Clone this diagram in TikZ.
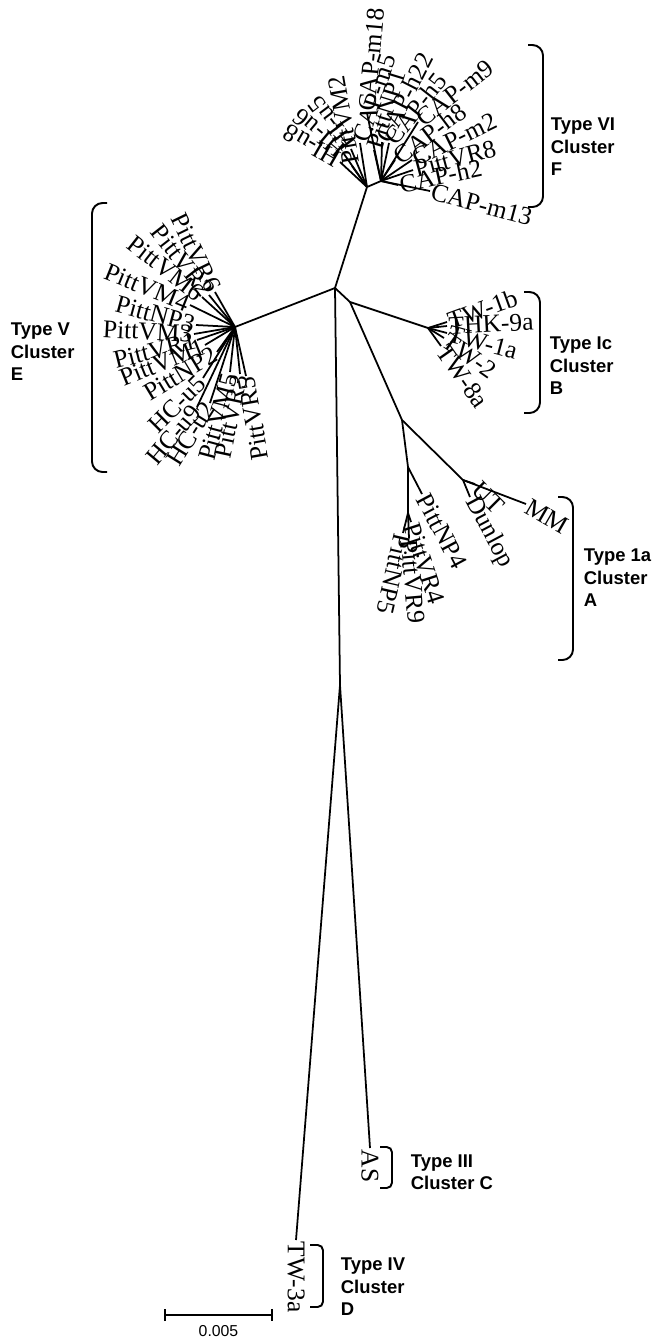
\documentclass[tikz,border=0pt]{standalone}
\usepackage{fontspec}
\setmainfont{Liberation Serif}
\setsansfont{Liberation Sans}
\usetikzlibrary{arrows.meta,calc}
\tikzset{leaf/.style={font=\fontsize{14.5}{14.5}\selectfont, inner sep=0.5pt}}
\tikzset{clade/.style={font=\sffamily\bfseries\fontsize{10.5}{12.8}\selectfont, align=left, anchor=west, inner sep=0pt}}
\tikzset{bracket/.style={line width=1.1pt, rounded corners=6pt}}

\begin{document}
\begin{tikzpicture}[x=0.02cm, y=0.02cm, line width=1pt]

	\useasboundingbox (0,0) rectangle (654,-1340);

	% inner nodes of the tree
	\coordinate (C0) at (335,-288);
	\coordinate (T1) at (367,-187);
	\coordinate (T2) at (381,-181);
	\coordinate (E0) at (235,-327);
	\coordinate (BA) at (350,-302);
	\coordinate (B0) at (428,-328);
	\coordinate (A0) at (402,-420);
	\coordinate (A1) at (408,-467);
	\coordinate (A2) at (408,-513);
	\coordinate (A3) at (463,-480);
	\coordinate (V) at (340,-685);

	\draw (C0) -- (T1) -- (T2);
	\draw (C0) -- (E0);
	\draw (C0) -- (BA) -- (B0);
	\draw (BA) -- (A0) -- (A1) -- (A2);
	\draw (A0) -- (A3);
	\draw (C0) -- (V);

	% cluster F
	\foreach \h/\x/\y/\r/\lab [count=\i] in {T1/340/162/150/HI-u8, T1/344/154/140/HI-u6, T1/351/149/127/HI-u5,
			T1/352/166/100/PittVM2, T1/360/143/72/CAP-m5, T2/367/113/85/CAP-m18, T2/374/150/73/PittNP1,
			T2/382/142/63/CAP-h22, T2/389/143/52/CAP-h5, T2/418/122/38/CAP-m9, T2/395/160/37/CAP-h8,
			T2/412/160/26/CAP-m2, T2/413/170/15/PittVR8, T2/398/185/12/CAP-h2, T2/430/191/-15/CAP-m13}
	{
		\coordinate (f\i) at (\x,-\y);
		\draw (\h) -- (f\i);
		\node[leaf, anchor=west, rotate=\r] (fl\i) at (f\i) {\lab};
	}

	% cluster E
	\foreach \x/\y/\r/\lab [count=\i] in {215/292/-64/PittVR6, 209/295/-52/PittVR2, 202/297/-38/PittVM6,
			190/305/-22/PittVM4, 196/325/-15/PittNP3, 194/334/-3/PittVM3, 197/340/14/PittVR1,
			205/345/22/PittVM1, 217/352/31/PittNP2, 203/378/45/HC-u5, 197/407/50/HC-u9,
			210/403/58/HC-u2, 230/372/75/PittVM5, 240/374/78/PittVR3, 246/376/100/PittVR5}
	{
		\coordinate (e\i) at (\x,-\y);
		\draw (E0) -- (e\i);
		\node[leaf, anchor=east, rotate=\r] (el\i) at (e\i) {\lab};
	}

	% cluster B
	\foreach \x/\y/\r/\lab [count=\i] in {447/322/20/TW-1b, 447/326/3/THK-9a, 447/333/-15/TW-1a,
			444/338/-35/TW-2, 441/346/-55/TW-8a}
	{
		\coordinate (b\i) at (\x,-\y);
		\draw (B0) -- (b\i);
		\node[leaf, anchor=west, rotate=\r] (bl\i) at (b\i) {\lab};
	}

	% cluster A
	\foreach \h/\x/\y/\r/\lab [count=\i] in {A1/422/494/-62/PittNP4, A2/411/522/-72/PittVR4,
			A2/409/538/-85/PittVR9, A2/403/533/-103/PittNP5, A3/526/504/-30/MM,
			A3/475/484/-45/UT, A3/470/497/-62/Dunlop}
	{
		\coordinate (a\i) at (\x,-\y);
		\draw (\h) -- (a\i);
		\node[leaf, anchor=west, rotate=\r] (al\i) at (a\i) {\lab};
	}

	% clusters C and D
	\coordinate (c1) at (370,-1148);
	\coordinate (d1) at (296,-1240);
	\draw (V) -- (c1);
	\draw (V) -- (d1);
	\node[leaf, anchor=west, rotate=-90] (cl1) at (c1) {AS};
	\node[leaf, anchor=west, rotate=-90] (dl1) at (d1) {TW-3a};

	% brackets and cluster names
	\draw[bracket] (528,-45) -- (543,-45) -- (543,-207) -- (528,-207);
	\node[clade] (nameF) at (550,-147) {Type VI\\Cluster\\F};
	\draw[bracket] (107,-203) -- (92,-203) -- (92,-472) -- (107,-472);
	\node[clade] (nameE) at (10,-352) {Type V\\Cluster\\E};
	\draw[bracket] (524,-292) -- (540,-292) -- (540,-413) -- (524,-413);
	\node[clade] (nameB) at (549,-366) {Type Ic\\Cluster\\B};
	\draw[bracket] (558,-497) -- (573,-497) -- (573,-660) -- (558,-660);
	\node[clade] (nameA) at (583,-578) {Type 1a\\Cluster\\A};
	\draw[bracket, rounded corners=3pt] (380,-1147) -- (392,-1147) -- (392,-1188) -- (380,-1188);
	\node[clade] (nameC) at (410,-1172) {Type III\\Cluster C};
	\draw[bracket, rounded corners=3pt] (310,-1245) -- (323,-1245) -- (323,-1307) -- (310,-1307);
	\node[clade] (nameD) at (340,-1287) {Type IV\\Cluster\\D};

	% scale bar
	\coordinate (s1) at (164,-1315);
	\coordinate (s2) at (273,-1315);
	\draw[{Bar[width=7pt]}-{Bar[width=7pt]}] (s1) -- node[below=2pt, font=\sffamily\fontsize{9}{9}\selectfont] (scale) {0.005} (s2);
\end{tikzpicture}
\end{document}
